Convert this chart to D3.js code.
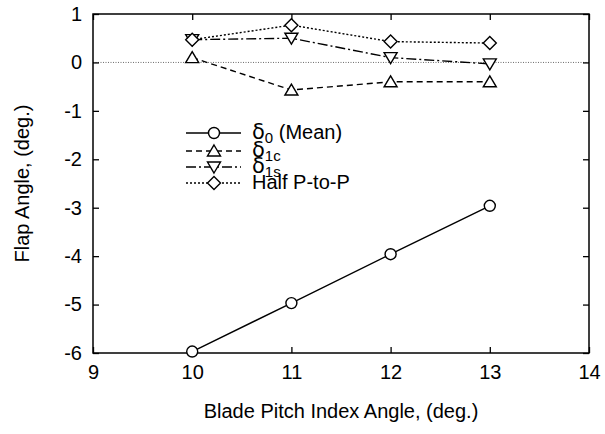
<!DOCTYPE html>
<html>
<head>
<meta charset="utf-8">
<script src="https://d3js.org/d3.v7.min.js"></script>
<style>
  body { margin: 0; background: #fff; }
  text { font-family: "Liberation Sans", Arial, sans-serif; fill: #000; }
</style>
</head>
<body>
<div id="chart"></div>
<script>
// data
const pitch = [10, 11, 12, 13];
const mean = [-5.97, -4.97, -3.96, -2.96];
const d1c = [0.1, -0.57, -0.4, -0.4];
const d1s = [0.47, 0.5, 0.1, -0.03];
const halfPP = [0.47, 0.77, 0.43, 0.4];
const xTicks = [9, 10, 11, 12, 13, 14];
const yTicks = [1, 0, -1, -2, -3, -4, -5, -6];

const width = 605, height = 434;
const plotL = 93, plotR = 589, plotT = 14, plotB = 353;
const fs = "20px";

const svg = d3.select("#chart").append("svg")
  .attr("width", width)
  .attr("height", height);

const x = d3.scaleLinear().domain([9, 14]).range([plotL, plotR]);
const y = d3.scaleLinear().domain([-6, 1]).range([plotB, plotT]);

// zero line
svg.append("line")
  .attr("x1", plotL).attr("x2", plotR)
  .attr("y1", y(0)).attr("y2", y(0))
  .attr("stroke", "#444").attr("stroke-width", 0.8)
  .attr("stroke-dasharray", "1,1.5");

// frame
svg.append("rect")
  .attr("x", plotL).attr("y", plotT)
  .attr("width", plotR - plotL).attr("height", plotB - plotT)
  .attr("fill", "none").attr("stroke", "#000").attr("stroke-width", 1.5);

// axes with inward ticks, mirrored on top/right
const tk = 6;
const plain = d => String(d); // hyphen minus like the original
svg.append("g").attr("transform", `translate(0,${plotB})`)
  .call(d3.axisBottom(x).tickValues(xTicks).tickSize(-tk).tickPadding(12).tickFormat(plain));
svg.append("g").attr("transform", `translate(0,${plotT})`)
  .call(d3.axisTop(x).tickValues(xTicks).tickSize(-tk).tickFormat(""));
svg.append("g").attr("transform", `translate(${plotL},0)`)
  .call(d3.axisLeft(y).tickValues(yTicks).tickSize(-tk).tickPadding(11).tickFormat(plain));
svg.append("g").attr("transform", `translate(${plotR},0)`)
  .call(d3.axisRight(y).tickValues(yTicks).tickSize(-tk).tickFormat(""));

svg.selectAll(".domain").remove();
svg.selectAll(".tick line").attr("stroke", "#000").attr("stroke-width", 1.3);
svg.selectAll(".tick text")
  .style("font-family", "Liberation Sans, Arial, sans-serif")
  .style("font-size", fs).attr("fill", "#000");

// axis titles
svg.append("text")
  .attr("x", (plotL + plotR) / 2).attr("y", 418)
  .attr("text-anchor", "middle").style("font-size", fs)
  .text("Blade Pitch Index Angle, (deg.)");
svg.append("text")
  .attr("transform", `translate(29,${(plotT + plotB) / 2}) rotate(-90)`)
  .attr("text-anchor", "middle").style("font-size", fs)
  .text("Flap Angle, (deg.)");

const series = [
  { vals: mean, dash: null, marker: "circle", label: "δ", sub: "0", tail: " (Mean)" },
  { vals: d1c, dash: "6,4", marker: "up", label: "δ", sub: "1c", tail: "" },
  { vals: d1s, dash: "10,3,2,3", marker: "down", label: "δ", sub: "1s", tail: "" },
  { vals: halfPP, dash: "2,2", marker: "diamond", label: "Half P-to-P", sub: "", tail: "" }
];

function drawMarker(g, type, cx, cy) {
  let m;
  if (type === "circle") {
    m = g.append("circle").attr("cx", cx).attr("cy", cy).attr("r", 5.5);
  } else if (type === "up") {
    m = g.append("path").attr("d", `M${cx},${cy - 6} L${cx + 6.5},${cy + 5} L${cx - 6.5},${cy + 5} Z`);
  } else if (type === "down") {
    m = g.append("path").attr("d", `M${cx},${cy + 6} L${cx + 6.5},${cy - 5} L${cx - 6.5},${cy - 5} Z`);
  } else {
    m = g.append("path").attr("d", `M${cx},${cy - 6.5} L${cx + 6.5},${cy} L${cx},${cy + 6.5} L${cx - 6.5},${cy} Z`);
  }
  m.attr("fill", "#fff").attr("stroke", "#000").attr("stroke-width", 1.4);
}

const line = d3.line().x((d, i) => x(pitch[i])).y(d => y(d));

series.forEach(s => {
  svg.append("path").datum(s.vals)
    .attr("d", line)
    .attr("fill", "none").attr("stroke", "#000").attr("stroke-width", 1.4)
    .attr("stroke-dasharray", s.dash);
});
series.forEach(s => {
  const g = svg.append("g");
  s.vals.forEach((v, i) => drawMarker(g, s.marker, x(pitch[i]), y(v)));
});

// legend
const legY = [133, 151, 167, 183];
series.forEach((s, i) => {
  const ly = legY[i];
  svg.append("line")
    .attr("x1", 186).attr("x2", 241).attr("y1", ly).attr("y2", ly)
    .attr("stroke", "#000").attr("stroke-width", 1.4)
    .attr("stroke-dasharray", s.dash);
  drawMarker(svg, s.marker, 214, ly);
  const t = svg.append("text").attr("x", 252).attr("y", ly + 6).style("font-size", fs);
  if (s.sub) {
    t.append("tspan").style("font-family", "DejaVu Sans, sans-serif").style("font-size", "21px").text(s.label);
    t.append("tspan").attr("dy", 4).style("font-size", "15px").text(s.sub);
    if (s.tail) t.append("tspan").attr("dy", -4).text(s.tail);
  } else {
    t.append("tspan").text(s.label);
  }
});
</script>
</body>
</html>
